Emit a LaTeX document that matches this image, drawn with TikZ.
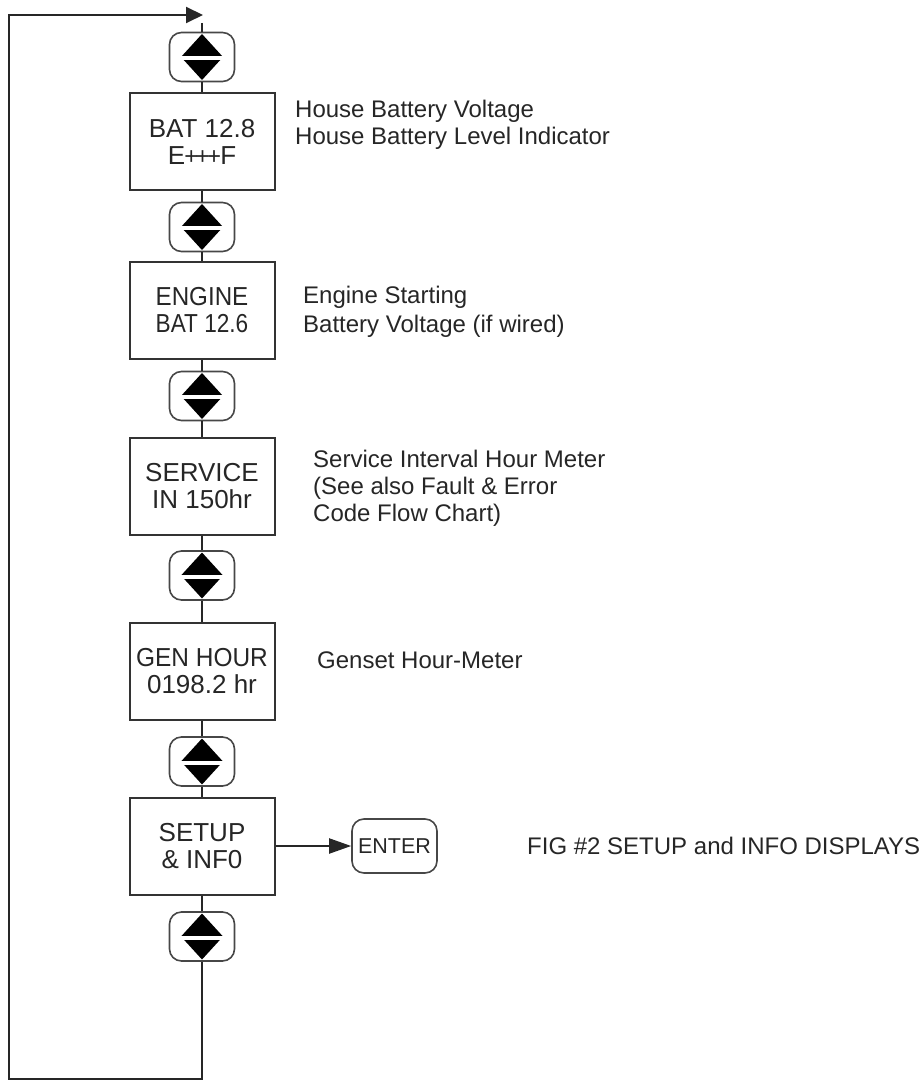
\documentclass[tikz,border=0pt]{standalone}
\usepackage{fontspec}
\setmainfont{Liberation Sans}
\usepackage{graphicx}
\usetikzlibrary{arrows.meta,calc}
\newcommand\eplusf{E\kern-0.8pt\raisebox{0pt}{\fontsize{24}{24}\selectfont +\kern-2.6pt+\kern-2.6pt+}\kern-0.8pt F}
\begin{document}
\begin{tikzpicture}[x=1pt,y=-1pt,
  line/.style={draw=black!85, line width=2pt},
  box/.style={draw=black!80, line width=2pt, minimum width=145pt, minimum height=97pt,
    align=center, font=\fontsize{26}{27}\selectfont, text=black!85, inner sep=0pt},
  key/.style={draw=black!72, line width=1.6pt, rounded corners=12pt, minimum width=65pt,
    minimum height=49pt, inner sep=0pt},
  note/.style={anchor=base west, align=left, font=\fontsize{24}{27}\selectfont,
    text=black!85, inner sep=0pt},
]
\useasboundingbox (0,0) rectangle (920,1083);

\node[key] (k1) at (202,57) {};
\node[box] (b1) at (202,142) {BAT 12.8\\\eplusf};
\node[key] (k2) at (202,227) {};
\node[box] (b2) at (202,310.5) {\scalebox{0.93}[1]{ENGINE}\\\scalebox{0.87}[1]{BAT 12.6}};
\node[key] (k3) at (202,396) {};
\node[box] (b3) at (202,486) {SERVICE\\IN 150hr};
\node[key] (k4) at (202,575.5) {};
\node[box] (b4) at (202,671) {\scalebox{0.94}[1]{GEN HOUR}\\0198.2 hr};
\node[key] (k5) at (202,761.5) {};
\node[box] (b5) at (202,846) {SETUP\\\& INF0};
\node[key] (k6) at (202,936.5) {};

\foreach \k in {k1,k2,k3,k4,k5,k6}{
  \fill[black] (\k.center) ++(0,-23) -- ++(21,23) -- ++(-21,23) -- ++(-21,-23) -- cycle;
  \fill[white] ($(\k.center)+(-22,-1)$) rectangle ($(\k.center)+(22,3)$);
}

\draw[line] (k1.south) -- (b1.north);
\draw[line] (b1.south) -- (k2.north);
\draw[line] (k2.south) -- (b2.north);
\draw[line] (b2.south) -- (k3.north);
\draw[line] (k3.south) -- (b3.north);
\draw[line] (b3.south) -- (k4.north);
\draw[line] (k4.south) -- (b4.north);
\draw[line] (b4.south) -- (k5.north);
\draw[line] (k5.south) -- (b5.north);
\draw[line] (b5.south) -- (k6.north);

\coordinate (bl) at (9,1079);
\coordinate (tip) at (203,15);
\coordinate (top) at (202,23);
\draw[line,-{Triangle[length=17pt,width=16pt]}] (k6.south) |- (bl) |- (tip);
\draw[line] (top) -- (k1.north);

\node[key, minimum width=85pt, minimum height=54pt, font=\fontsize{21.5}{21}\selectfont,
  text=black!85] (enter) at (394.5,846) {ENTER};
\draw[line,-{Triangle[length=22pt,width=15pt]}] (b5.east) -- (enter.west);

\node[note] (n1) at (295,145) {House Battery Voltage\\House Battery Level Indicator};
\node[note, font=\fontsize{24}{29}\selectfont] (n2) at (303,332) {Engine Starting\\Battery Voltage (if wired)};
\node[note] (n3) at (313,521) {Service Interval Hour Meter\\(See also Fault \& Error\\Code Flow Chart)};
\node[note] (n4) at (317,668) {Genset Hour-Meter};
\node[note] (fig) at (527,854) {FIG \#2 SETUP and INFO DISPLAYS};
\end{tikzpicture}
\end{document}
